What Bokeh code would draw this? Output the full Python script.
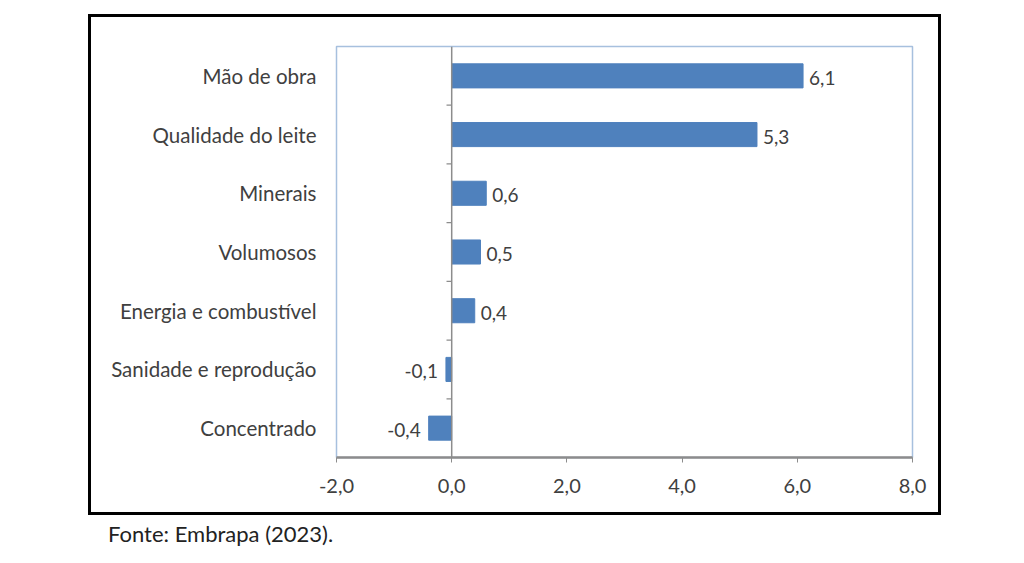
from bokeh.plotting import figure
from bokeh.models import (Range1d, FixedTicker, Span, ColumnDataSource, CustomJSTickFormatter, Div)
from bokeh.layouts import column
from bokeh.core.properties import value
from bokeh.embed import file_html
from bokeh.resources import INLINE

categories = ["Mão de obra", "Qualidade do leite", "Minerais", "Volumosos",
              "Energia e combustível", "Sanidade e reprodução", "Concentrado"]
values = [6.1, 5.3, 0.6, 0.5, 0.4, -0.1, -0.4]
x_ticks = [-2, 0, 2, 4, 6, 8]
source_text = "Fonte: Embrapa (2023)."

FONT = "Lato"
TXT = "#404040"
BAR = "#4f81bd"

n = len(categories)
ypos = [n - i - 0.5 for i in range(n)]
labels = [f"{v:.1f}".replace(".", ",") for v in values]
pos = [v >= 0 for v in values]

p = figure(width=853, height=501, output_backend="svg", toolbar_location=None,
           x_range=Range1d(-2, 8), y_range=Range1d(0, n),
           min_border_left=245, min_border_right=32, min_border_top=29, min_border_bottom=61,
           styles={"border": "3px solid black"}, margin=(14, 0, 0, 88))
p.grid.visible = False
p.outline_line_color = "#a7c0de"
p.outline_line_width = 1.5
p.background_fill_color = "white"
p.border_fill_color = "white"

src = ColumnDataSource(dict(y=ypos, v=values, lab=labels, cat=categories))
p.hbar(y="y", left=0, right="v", height=0.41, source=src, fill_color=BAR, line_color=BAR)

# vertical axis line at zero
p.add_layout(Span(location=0, dimension="height", line_color="#8c8c8c", line_width=1.5))
# small ticks between categories on the zero line
bounds = list(range(1, n))
p.segment(x0=[0] * len(bounds), x1=[-0.09] * len(bounds), y0=bounds, y1=bounds,
          line_color="#8c8c8c", line_width=1.2)

psrc = ColumnDataSource(dict(x=[v for v, q in zip(values, pos) if q], y=[y for y, q in zip(ypos, pos) if q],
                             t=[l for l, q in zip(labels, pos) if q]))
nsrc = ColumnDataSource(dict(x=[v for v, q in zip(values, pos) if not q], y=[y for y, q in zip(ypos, pos) if not q],
                             t=[l for l, q in zip(labels, pos) if not q]))
p.text(x="x", y="y", text="t", source=psrc, x_offset=6, text_align="left", text_baseline="middle",
       text_font=value(FONT), text_font_size="19px", text_color=TXT, y_offset=2)
p.text(x="x", y="y", text="t", source=nsrc, x_offset=-8, text_align="right", text_baseline="middle",
       text_font=value(FONT), text_font_size="19px", text_color=TXT, y_offset=2)

# x axis
xa = p.xaxis[0]
xa.ticker = FixedTicker(ticks=x_ticks)
xa.formatter = CustomJSTickFormatter(code="return tick.toFixed(1).replace('.', ',');")
xa.axis_line_color = "#8c8c8c"
xa.axis_line_width = 2.5
xa.major_tick_line_color = "#8c8c8c"
xa.major_tick_out = 5
xa.major_tick_in = 0
xa.minor_tick_line_color = None
xa.major_label_text_font = FONT
xa.major_label_text_font_size = "20px"
xa.major_label_text_color = TXT
xa.major_label_standoff = 16

# y axis: category names
ya = p.yaxis[0]
ya.ticker = FixedTicker(ticks=ypos)
ya.major_label_overrides = {y: c for y, c in zip(ypos, categories)}
ya.axis_line_color = None
ya.major_tick_line_color = None
ya.minor_tick_line_color = None
ya.major_label_text_font = FONT
ya.major_label_text_font_size = "20.5px"
ya.major_label_text_color = TXT
ya.major_label_standoff = 14

note = Div(text=source_text, margin=(3, 0, 0, 108),
           styles={"font-family": FONT, "font-size": "22px", "color": "#222222"})

layout = column(p, note)
open("out.html", "w").write(file_html(layout, INLINE))
